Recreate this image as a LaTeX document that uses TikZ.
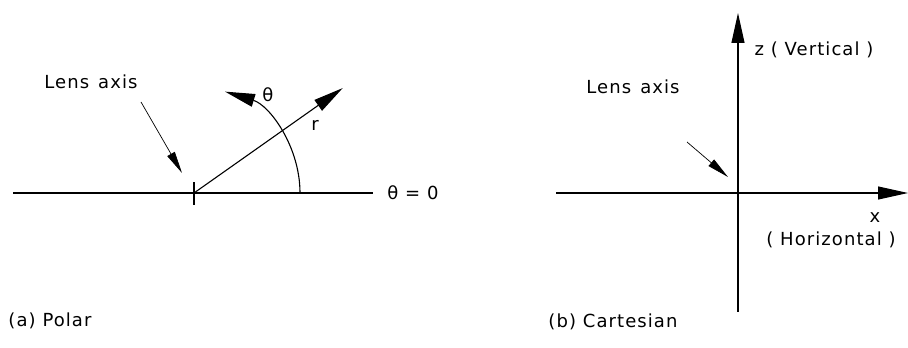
\documentclass[tikz,border=0pt]{standalone}
\usepackage{fontspec}
\setmainfont{DejaVu Sans}[LetterSpace=6]
\usetikzlibrary{arrows.meta,positioning}

\begin{document}
\begin{tikzpicture}[
  x=1pt, y=1pt,
  font=\fontsize{18}{21}\selectfont,
  txt/.style={inner sep=0pt},
  axis/.style={line width=1.1pt},
  bigarr/.style={-{Triangle[length=30pt,width=13pt]}, line width=1.1pt},
  smallarr/.style={-{Triangle[length=22pt,width=8.5pt]}, line width=0.7pt}
]
\useasboundingbox (0,0) rectangle (908,348);
% (a) polar
\coordinate (pO) at (194,155);
\coordinate (pL) at (13,155);
\coordinate (pR) at (373,155);
\coordinate (pArc) at (300,155);
\draw[axis] (pL) -- (pR);
\draw[axis] ([yshift=-12pt]pO) -- ([yshift=11pt]pO);
\path (pO) ++(35.2:182) coordinate (pTip);
\draw[bigarr] (pO) -- (pTip);
\draw[bigarr] (pArc) arc[start angle=0, end angle=73, radius=106];
\node[txt] (rlbl) at (315,223) {r};
\node[txt] (thlbl) at (268,253) {θ};
\node[txt] (thzero) at (413,155) {θ = 0};
\node[txt] (lensA) at (91,266) {Lens\hspace{0.5em}axis};
\coordinate (lensAfrom) at (141,246);
\coordinate (lensAto) at (182,175);
\draw[smallarr] (lensAfrom) -- (lensAto);
\node[txt] (capA) at (50,27) {(a) Polar};
% (b) cartesian
\coordinate (cB) at (738,36);
\coordinate (cT) at (738,335);
\coordinate (cL) at (556,155);
\coordinate (cR) at (908,155);
\draw[bigarr] (cB) -- (cT);
\draw[bigarr] (cL) -- (cR);
\node[txt] (zlbl) at (814,298) {z ( Vertical )};
\node[txt] (xlbl) at (875,130) {x};
\node[txt] (hlbl) at (831,108) {( Horizontal )};
\node[txt] (lensB) at (633,261) {Lens\hspace{0.5em}axis};
\coordinate (lensBfrom) at (687,206);
\coordinate (lensBto) at (728,171);
\draw[smallarr] (lensBfrom) -- (lensBto);
\node[txt] (capB) at (613,26) {(b) Cartesian};
\end{tikzpicture}
\end{document}
